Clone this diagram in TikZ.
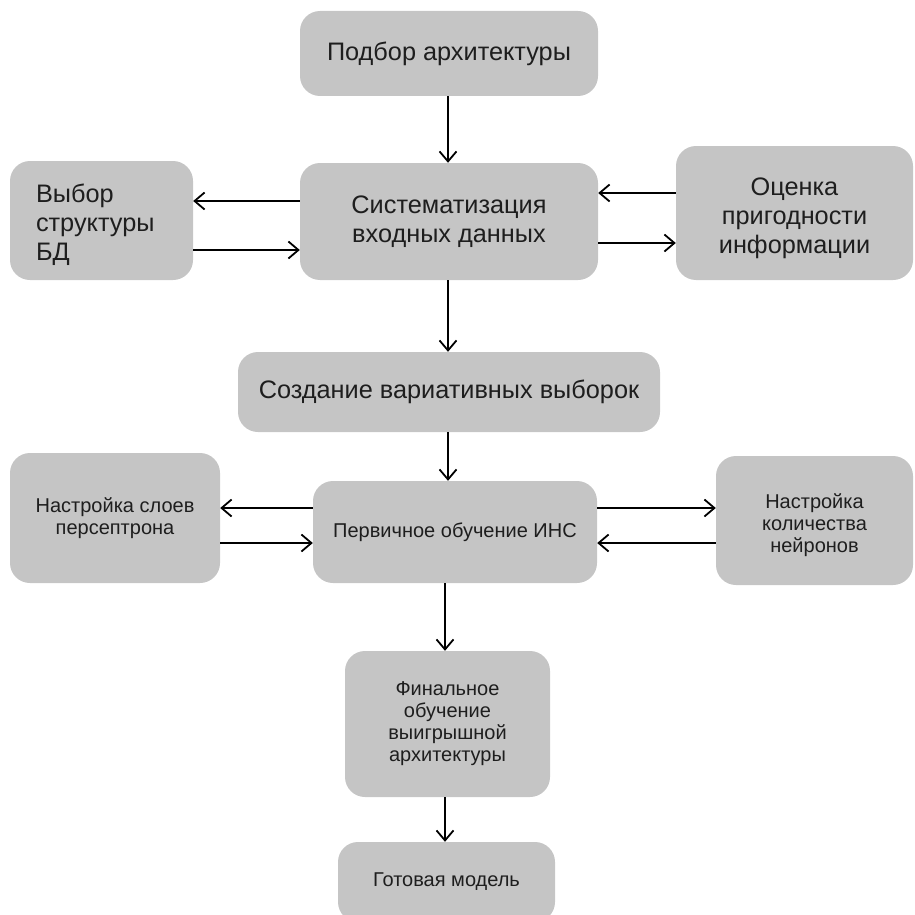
\documentclass[tikz,border=0pt]{standalone}
\usepackage{fontspec}
\setmainfont{Liberation Sans}
\usetikzlibrary{arrows.meta}
\definecolor{boxgray}{RGB}{197,197,197}
\definecolor{inkgray}{RGB}{30,30,30}
% invisible strut that lowers a centred text block by half its height
\newcommand{\droptext}[1]{\rule{0pt}{#1}}
\tikzset{
  box/.style={draw=none, fill=boxgray, rounded corners=20pt, align=center,
    text=inkgray, inner sep=0pt},
  bigtext/.style={font=\fontsize{25.3}{29}\selectfont},
  smalltext/.style={font=\fontsize{20}{22}\selectfont},
  arr/.style={draw=black, line width=1.8pt,
    -{Straight Barb[length=10pt,width=17pt,line width=1.8pt]}}
}
\begin{document}
\begin{tikzpicture}[x=1pt,y=-1pt]
  \useasboundingbox (0,0) rectangle (914,915);
  % upper block
  \node[box,bigtext,minimum width=298pt,minimum height=85pt] (n1) at (449,53.5) {Подбор архитектуры};
  \node[box,bigtext,minimum width=298pt,minimum height=117pt] (n2) at (449,221.5) {Систематизация\\входных данных};
  \node[box,bigtext,minimum width=183pt,minimum height=119pt,text width=131pt,align=left] (n3) at (101.5,220.5) {\droptext{28pt}Выбор\\структуры\\БД};
  \node[box,bigtext,minimum width=237pt,minimum height=134pt] (n4) at (794.5,213) {\droptext{28pt}Оценка\\пригодности\\информации};
  \node[box,bigtext,minimum width=422pt,minimum height=80pt] (n5) at (449,392) {Создание вариативных выборок};
  % lower block
  \node[box,smalltext,minimum width=210pt,minimum height=130pt] (n6) at (115,518) {Настройка слоев\\персептрона};
  \node[box,smalltext,minimum width=284pt,minimum height=102pt] (n7) at (455,532) {Первичное обучение ИНС};
  \node[box,smalltext,minimum width=197pt,minimum height=129pt] (n8) at (814.5,520.5) {\droptext{24pt}Настройка\\количества\\нейронов};
  \node[box,smalltext,minimum width=205pt,minimum height=146pt] (n9) at (447.5,724) {Финальное\\обучение\\выигрышной\\архитектуры};
  \node[box,smalltext,minimum width=217pt,minimum height=80pt] (n10) at (446.5,882) {Готовая модель};

  % vertical flow
  \draw[arr] (n1.south -| 448,0) -- (n2.north -| 448,0);
  \draw[arr] (n2.south -| 448,0) -- (n5.north -| 448,0);
  \draw[arr] (n5.south -| 448,0) -- (n7.north -| 448,0);
  \draw[arr] (n7.south -| 445,0) -- (n9.north -| 445,0);
  \draw[arr] (n9.south -| 445,0) -- (n10.north -| 445,0);

  % exchanges around the data block
  \draw[arr] (n2.west |- 0,201) -- (n3.east |- 0,201);
  \draw[arr] (n3.east |- 0,250) -- (n2.west |- 0,250);
  \draw[arr] (n4.west |- 0,193) -- (n2.east |- 0,193);
  \draw[arr] (n2.east |- 0,243) -- (n4.west |- 0,243);

  % exchanges around the training block
  \draw[arr] (n7.west |- 0,508) -- (n6.east |- 0,508);
  \draw[arr] (n6.east |- 0,543) -- (n7.west |- 0,543);
  \draw[arr] (n7.east |- 0,508) -- (n8.west |- 0,508);
  \draw[arr] (n8.west |- 0,543) -- (n7.east |- 0,543);
\end{tikzpicture}
\end{document}
